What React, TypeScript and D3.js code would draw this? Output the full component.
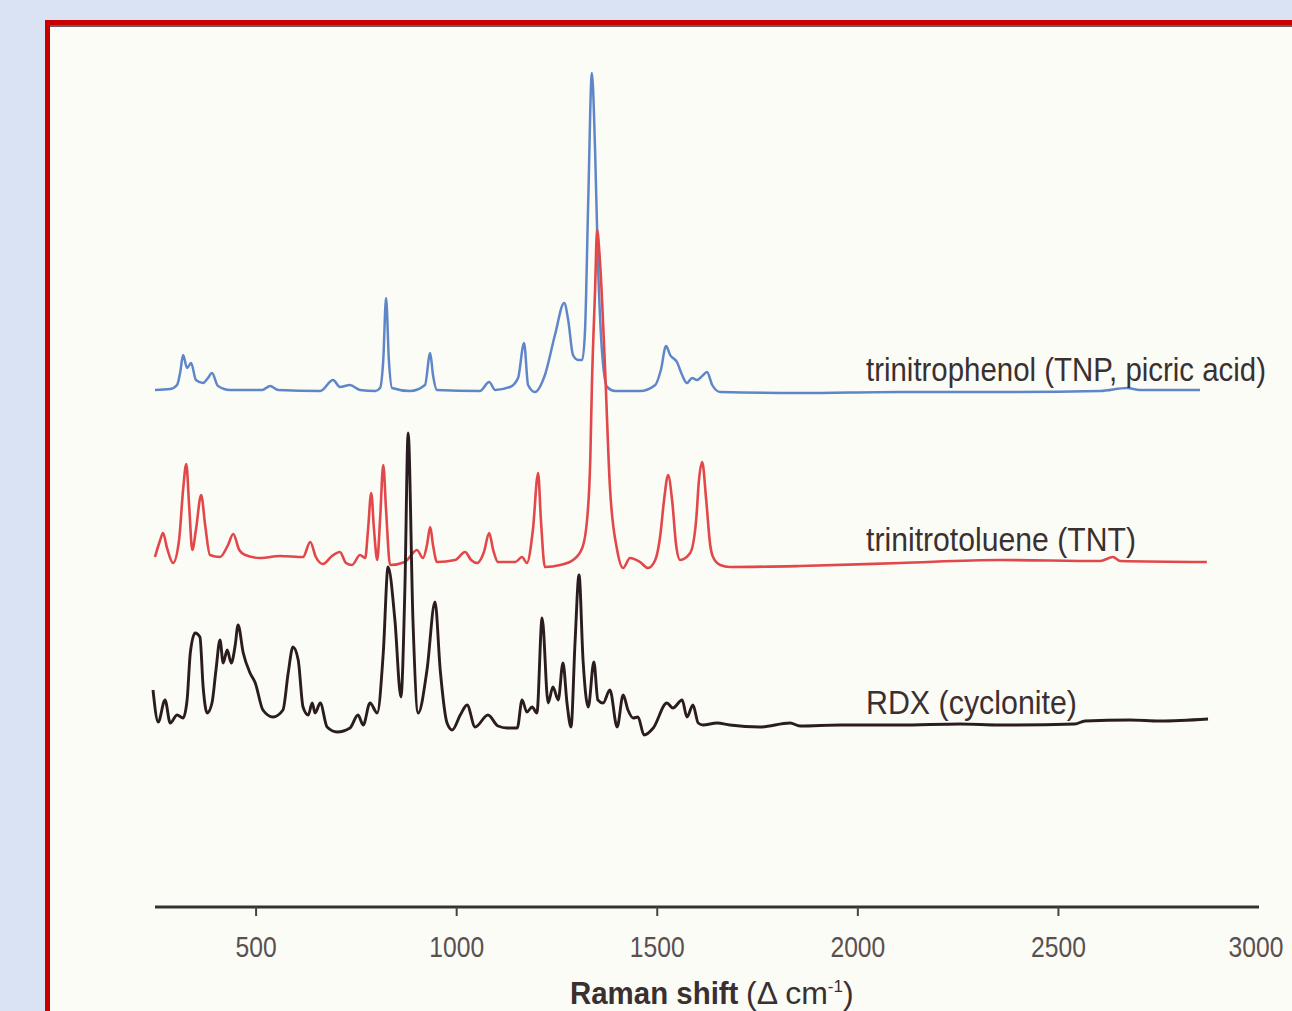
import React from "react";
import * as d3 from "d3";

// Raman shift (cm-1) and intensity (a.u., stacked offsets)
const tnpShift = [248,286,303,311,318,328,338,350,368,380,390,405,435,515,535,555,660,692,709,734,759,797,809,817,824,831,839,884,921,934,941,951,1058,1081,1096,1133,1153,1168,1178,1195,1220,1245,1268,1278,1290,1303,1313,1320,1328,1337,1345,1352,1362,1375,1395,1457,1495,1509,1522,1532,1549,1562,1574,1587,1599,1612,1624,1637,1657,1856,2105,2354,2604,2671,2703,2853];
const tnpInt = [517,518,522,535,552,539,544,527,524,529,534,521,517,517,521,517,516,527,520,522,517,516,519,547,609,547,519,516,522,554,532,517,516,525,517,520,529,564,522,515,532,572,604,587,552,547,547,577,707,834,757,647,557,520,516,516,522,537,561,552,545,532,524,529,527,531,535,522,515,514,515,515,516,519,517,517];

const tntShift = [248,261,268,278,293,308,318,326,333,341,350,363,373,385,410,430,443,458,473,510,560,617,635,649,667,689,709,724,739,759,772,779,787,794,802,809,817,824,834,871,901,916,926,934,941,951,996,1021,1036,1051,1068,1081,1091,1103,1146,1163,1175,1190,1203,1210,1220,1258,1290,1313,1325,1333,1337,1345,1350,1357,1370,1382,1400,1415,1432,1457,1477,1495,1507,1517,1527,1537,1547,1557,1582,1597,1604,1612,1622,1632,1639,1657,1681,1856,2105,2354,2604,2636,2654,2870];
const tntInt = [350,367,374,359,344,367,417,443,402,357,377,412,382,352,350,362,373,357,352,349,351,350,365,350,343,351,355,344,342,352,349,377,414,377,347,387,442,397,342,345,357,349,362,380,362,345,347,355,347,344,355,374,357,345,345,350,344,377,434,387,340,342,347,359,387,447,520,617,677,647,537,420,357,339,349,345,339,347,370,407,432,407,362,347,354,387,427,445,407,362,350,342,340,341,344,347,346,350,346,345];

const rdxShift = [243,256,273,286,303,318,328,336,348,360,368,378,390,400,410,418,428,438,448,455,468,485,498,517,542,567,580,592,605,617,630,640,647,660,677,702,734,754,767,784,802,817,829,846,861,871,879,891,904,926,946,959,976,989,1009,1026,1046,1078,1103,1126,1151,1163,1175,1188,1200,1213,1228,1240,1253,1265,1275,1285,1295,1305,1315,1328,1342,1352,1365,1382,1400,1415,1427,1440,1452,1467,1490,1524,1539,1562,1574,1589,1602,1614,1649,1681,1756,1831,1856,1956,2105,2255,2354,2541,2566,2678,2753,2873];
const rdxInt = [217,185,207,184,192,189,207,254,274,270,220,194,204,237,267,244,257,244,262,282,254,234,224,197,190,197,234,260,247,200,192,204,194,204,180,175,179,192,182,204,194,254,340,287,210,320,474,287,194,237,305,237,184,177,192,202,180,192,181,179,179,207,195,200,194,289,204,220,207,244,204,180,264,332,247,200,245,207,204,217,180,212,197,189,190,172,179,204,199,207,190,202,184,182,184,182,180,184,181,182,182,183,182,183,186,187,186,188];

const seriesNames = ["trinitrophenol (TNP, picric acid)", "trinitrotoluene (TNT)", "RDX (cyclonite)"];
const seriesColors = ["#5f86c8", "#e2474a", "#2b1d1f"];
const tickValues = [500, 1000, 1500, 2000, 2500, 3000];

export default function App() {
  const W = 1292, H = 1011;
  const x = d3.scaleLinear().domain([248, 3000]).range([155, 1259]);
  const y = d3.scaleLinear().domain([0, 850]).range([907, 57]);
  const line = d3
    .line<[number, number]>()
    .x((d) => x(d[0]))
    .y((d) => y(d[1]))
    .curve(d3.curveMonotoneX);

  const series = [
    { name: seriesNames[0], color: seriesColors[0], w: 2.5, pts: tnpShift.map((s, i) => [s, tnpInt[i]] as [number, number]) },
    { name: seriesNames[1], color: seriesColors[1], w: 2.6, pts: tntShift.map((s, i) => [s, tntInt[i]] as [number, number]) },
    { name: seriesNames[2], color: seriesColors[2], w: 2.9, pts: rdxShift.map((s, i) => [s, rdxInt[i]] as [number, number]) },
  ];

  const sx = 0.88;
  const labels = [
    { text: seriesNames[0], x: 866, y: 381, w: 400 },
    { text: seriesNames[1], x: 866, y: 551, w: 270 },
    { text: seriesNames[2], x: 866, y: 714, w: 211 },
  ];

  const font = "'Liberation Sans', Arial, sans-serif";
  const tsx = 0.85;

  return (
    <div style={{ position: "fixed", left: 0, top: 0 }}>
      <svg width={W} height={H} style={{ display: "block" }}>
        <rect x={0} y={0} width={W} height={H} fill="#d9e3f3" />
        <rect x={47.5} y={22.5} width={W + 20} height={H + 20} fill="#fcfcf7" stroke="#c80000" strokeWidth={5} />
        <line x1={50} x2={W} y1={26} y2={26} stroke="#3a2a2a" strokeWidth={1.5} />

        {/* spectra: blue first, then red, black on top */}
        {[0, 1, 2].map((i) => (
          <path
            key={i}
            d={line(series[i].pts) || ""}
            fill="none"
            stroke={series[i].color}
            strokeWidth={series[i].w}
            strokeLinejoin="round"
          />
        ))}

        {labels.map((l, i) => (
          <text
            key={i}
            transform={`translate(${l.x},${l.y}) scale(${sx},1)`}
            fontFamily={font}
            fontSize={33}
            fill="#3a3030"
            textLength={l.w / sx}
            lengthAdjust="spacingAndGlyphs"
          >
            {l.text}
          </text>
        ))}

        {/* x axis */}
        <line x1={x(248)} x2={x(3000)} y1={907} y2={907} stroke="#333" strokeWidth={3.2} />
        {tickValues.map((t) => (
          <g key={t} transform={`translate(${x(t) - (t === 3000 ? 3 : 0)},957)`}>
            {t < 3000 && <line x1={0} x2={0} y1={-50} y2={-41} stroke="#444" strokeWidth={2} />}
            <text
              transform={`scale(${tsx},1)`}
              textAnchor="middle"
              fontFamily={font}
              fontSize={29}
              fill="#5a5050"
            >
              {t}
            </text>
          </g>
        ))}

        <text
          transform="translate(570,1004) scale(0.92,1)"
          fontFamily={font}
          fontSize={32}
          fontWeight="bold"
          fill="#3a3030"
        >
          Raman shift
        </text>
        <text x={746} y={1004} fontFamily={font} fontSize={32} fill="#3a3030">
          <tspan>(Δ cm</tspan>
          <tspan dy={-12} fontSize={17}>-1</tspan>
          <tspan dy={12}>)</tspan>
        </text>
      </svg>
    </div>
  );
}
